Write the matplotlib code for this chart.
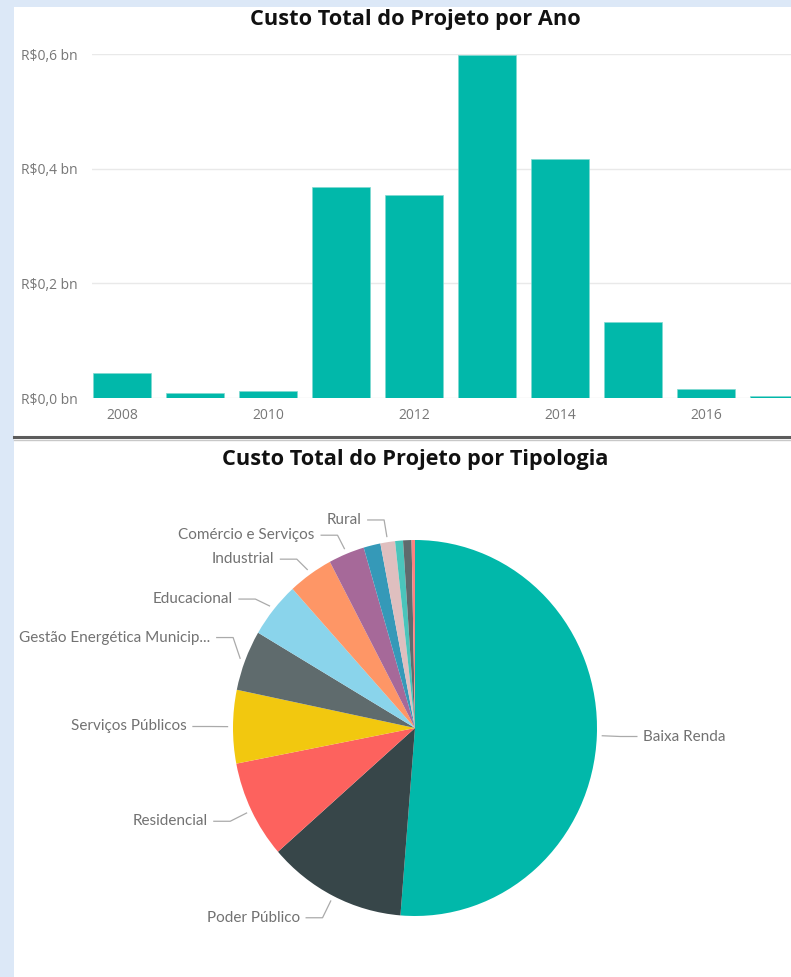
import numpy as np
import matplotlib.pyplot as plt
from matplotlib.patches import Rectangle
from matplotlib.lines import Line2D

# dados - custo por ano (R$ bilhões)
anos = [2008, 2009, 2010, 2011, 2012, 2013, 2014, 2015, 2016, 2017]
custo_bn = [0.044, 0.009, 0.012, 0.368, 0.354, 0.598, 0.417, 0.133, 0.016, 0.003]
anos_ticks = [2008, 2010, 2012, 2014, 2016]
y_ticks = [0.0, 0.2, 0.4, 0.6]

# dados - participação por tipologia (%)
tipologias = ['Baixa Renda', 'Poder Público', 'Residencial', 'Serviços Públicos',
              'Gestão Energética Municip...', 'Educacional', 'Industrial',
              'Comércio e Serviços', '', 'Rural', '', '', '']
participacao = [51.3, 12.3, 8.4, 6.3, 5.2, 4.8, 4.0, 3.2, 1.5, 1.3, 0.7, 0.75, 0.3]
cores_pie = ['#01B8AA', '#374649', '#FD625E', '#F2C80F', '#5F6B6D', '#8AD4EB',
             '#FE9666', '#A66999', '#3599B8', '#DFBFBF', '#4AC5BB', '#5F6B6D', '#FB8281']
# ajuste dos rótulos (px), só layout
ajuste_y = [0, 0, 0, 0, 14, -5, -5, -4, 0, -2, 0, 0, 0]
ajuste_x = [0, 0, 0, 0, 10, 0, 0, 0, 0, 0, 0, 0, 0]

W, H = 791, 977
fig = plt.figure(figsize=(W / 100, H / 100), dpi=100, facecolor='#dce8f7')
fig.patches.append(Rectangle((14 / W, 0), 1, 1 - 7 / H, transform=fig.transFigure,
                             facecolor='white', edgecolor='none', zorder=-10))

titulo_font = dict(family=['Open Sans', 'DejaVu Sans'], fontweight='bold', fontsize=15.7, color='#111111')
fig.text(415 / W, 1 - 20 / H, 'Custo Total do Projeto por Ano', ha='center', va='center', **titulo_font)
fig.text(415 / W, 1 - 460 / H, 'Custo Total do Projeto por Tipologia', ha='center', va='center', **titulo_font)

# separador
fig.lines.append(Line2D([14 / W, 1], [1 - 437 / H] * 2, transform=fig.transFigure,
                        color='#5c5c5c', lw=2.2))
fig.lines.append(Line2D([14 / W, 1], [1 - 439.5 / H] * 2, transform=fig.transFigure,
                        color='#c8c8c8', lw=1))

# ---- barras ----
ax = fig.add_axes([92 / W, 1 - 398 / H, (W - 92) / W, (398 - 54) / H])
ax.patch.set_alpha(0)
ax.bar(anos, custo_bn, width=0.8, color='#01B8AA', edgecolor='#7fd9d1', linewidth=0.5, zorder=3)
x0 = anos[0] - 0.4 - 1 / 73
ax.set_xlim(x0, x0 + (W - 92) / 73)
ax.set_ylim(0, 0.6)
ax.set_yticks(y_ticks)
ax.set_yticklabels([f'R${v:.1f} bn'.replace('.', ',') for v in y_ticks])
ax.set_xticks(anos_ticks)
ax.set_xticklabels([str(a) for a in anos_ticks])
ax.tick_params(length=0, colors='#777777', labelsize=10)
ax.tick_params(axis='y', pad=10)
ax.tick_params(axis='x', pad=7)
for lab in ax.get_xticklabels() + ax.get_yticklabels():
    lab.set_family(['Open Sans', 'DejaVu Sans'])
ax.grid(axis='y', color='#e9e9e9', lw=1, zorder=0)
ax.set_axisbelow(True)
for s in ax.spines.values():
    s.set_visible(False)

# ---- pizza ----
cx, cy, Rx, Ry = 415, 728, 182, 188
top_px = 480
axp = fig.add_axes([14 / W, 0, (W - 14) / W, (H - top_px) / H])
wedges, _ = axp.pie(participacao, colors=cores_pie, startangle=90, counterclock=False,
                    radius=1, wedgeprops=dict(linewidth=0))
axp.set_xlim((14 - cx) / Rx, (W - cx) / Rx)
axp.set_ylim(-(H - cy) / Ry, (cy - top_px) / Ry)
axp.set_aspect('auto')
axp.axis('off')

for w, nome, dx, dy in zip(wedges, tipologias, ajuste_x, ajuste_y):
    if not nome:
        continue
    ang = np.deg2rad((w.theta1 + w.theta2) / 2)
    sx, sy = 1.03 * np.cos(ang), 1.03 * np.sin(ang)
    ex, ey = 1.13 * np.cos(ang) + dx / Rx, 1.13 * np.sin(ang) + dy / Ry
    lado = 1 if np.cos(ang) >= 0 else -1
    hx = ex + lado * 0.09
    axp.plot([sx, ex, hx], [sy, ey, ey], color='#aaaaaa', lw=0.9, clip_on=False)
    axp.text(hx + lado * 0.035, ey, nome, ha='left' if lado > 0 else 'right', va='center',
             fontsize=11, color='#727272', family=['Lato', 'DejaVu Sans'])

plt.savefig('out.png', dpi=100, facecolor=fig.get_facecolor())
